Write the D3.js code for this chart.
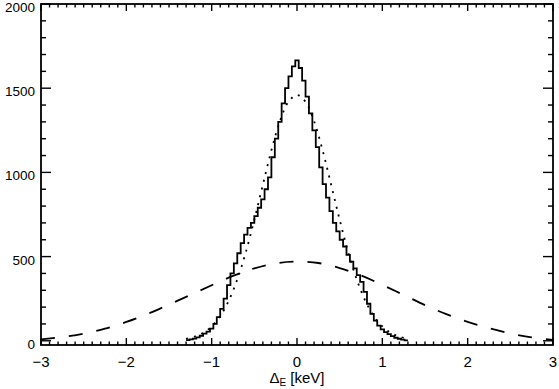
<!DOCTYPE html>
<html>
<head>
<meta charset="utf-8">
<script src="https://cdn.jsdelivr.net/npm/d3@7"></script>
<style>
  html, body { margin: 0; padding: 0; background: #fff; }
  svg { display: block; }
  text { font-family: "Liberation Sans", Arial, Helvetica, sans-serif; fill: #000; }
</style>
</head>
<body>
<div id="chart"></div>
<script>
// Energy-difference histogram with two model curves

// histogram: bin width 0.04 keV, first bin centred at -1.28 keV
const HIST_START = -1.28;
const HIST_BIN = 0.04;
const HIST_COUNTS = [
  4, 8, 13, 20, 30, 42, 55, 72, 100, 140, 190, 250, 330, 400, 460, 520,
  580, 630, 670, 700, 740, 790, 840, 900, 970, 1090, 1200, 1300, 1410, 1500, 1570, 1630,
  1665,
  1620, 1545, 1450, 1350, 1250, 1150, 1030, 930, 850, 770, 700, 650, 600, 560, 510, 470,
  430, 390, 350, 290, 220, 160, 120, 90, 68, 52, 40, 28, 18, 12, 7, 3
];

// dotted model curve
const DOT_X = [-1.3, -1.2, -1.1, -1.0, -0.9, -0.8, -0.7, -0.6, -0.5, -0.4, -0.3, -0.2, -0.1, 0,
               0.1, 0.2, 0.3, 0.4, 0.5, 0.6, 0.7, 0.8, 0.9, 1.0, 1.1, 1.2, 1.3];
const DOT_Y = [12, 25, 47, 86, 147, 238, 364, 526, 719, 927, 1131, 1304, 1419, 1460,
               1419, 1304, 1131, 927, 719, 526, 364, 238, 147, 86, 47, 25, 12];

// dashed model curve
const DASH_X = [-3.0, -2.75, -2.5, -2.25, -2.0, -1.75, -1.5, -1.25, -1.0, -0.75, -0.5, -0.25, 0,
                0.25, 0.5, 0.75, 1.0, 1.25, 1.5, 1.75, 2.0, 2.25, 2.5, 2.75, 3.0];
const DASH_Y = [8, 22, 42, 72, 112, 160, 215, 272, 330, 385, 430, 460, 470,
                462, 432, 388, 332, 272, 212, 158, 112, 75, 44, 20, 6];

const X_TICKS = [-3, -2, -1, 0, 1, 2, 3];
const X_LABELS = ['\u22123', '\u22122', '\u22121', '0', '1', '2', '3'];
const Y_TICKS = [0, 500, 1000, 1500, 2000];

const W = 559, H = 389;
const m = { left: 41, right: 6, top: 4, bottom: 44 };

const x = d3.scaleLinear().domain([-3, 3]).range([m.left, W - m.right]);
const y = d3.scaleLinear().domain([-25, 2000]).range([H - m.bottom, m.top]);

const svg = d3.select('#chart').append('svg')
  .attr('width', W).attr('height', H)
  .attr('viewBox', `0 0 ${W} ${H}`);

const x0 = m.left, x1 = W - m.right, y0 = H - m.bottom, y1 = m.top;
svg.append('clipPath').attr('id', 'plot')
  .append('rect').attr('x', x0).attr('y', y1).attr('width', x1 - x0).attr('height', y0 - y1);

const g = svg.append('g').attr('clip-path', 'url(#plot)');

// histogram as steps across bin edges
const steps = [];
HIST_COUNTS.forEach((c, i) => {
  const left = HIST_START + (i - 0.5) * HIST_BIN;
  steps.push([left, c]);
});
steps.push([HIST_START + (HIST_COUNTS.length - 0.5) * HIST_BIN, HIST_COUNTS[HIST_COUNTS.length - 1]]);

g.append('path')
  .attr('d', d3.line().x(d => x(d[0])).y(d => y(d[1])).curve(d3.curveStepAfter)(steps))
  .attr('fill', 'none').attr('stroke', '#000').attr('stroke-width', 1.8);

const smooth = d3.line().x(d => x(d[0])).y(d => y(d[1])).curve(d3.curveCatmullRom);

g.append('path')
  .attr('d', smooth(DOT_X.map((v, i) => [v, DOT_Y[i]])))
  .attr('fill', 'none').attr('stroke', '#000').attr('stroke-width', 1.8)
  .attr('stroke-dasharray', '2 6');

g.append('path')
  .attr('d', smooth(DASH_X.map((v, i) => [v, DASH_Y[i]])))
  .attr('fill', 'none').attr('stroke', '#000').attr('stroke-width', 1.8)
  .attr('stroke-dasharray', '14 14');

// frame and ticks (inward on all four sides)
const ax = svg.append('g').attr('stroke', '#000').attr('stroke-width', 1.4);
ax.append('rect').attr('x', x0).attr('y', y1).attr('width', x1 - x0).attr('height', y0 - y1)
  .attr('fill', 'none').attr('stroke-width', 1.8);

const xMinor = d3.range(-30, 31).map(v => v / 10);
xMinor.forEach(v => {
  const major = Math.abs(v - Math.round(v)) < 1e-9;
  const len = major ? 7 : 3.5;
  ax.append('line').attr('x1', x(v)).attr('x2', x(v)).attr('y1', y0).attr('y2', y0 - len);
  ax.append('line').attr('x1', x(v)).attr('x2', x(v)).attr('y1', y1).attr('y2', y1 + len);
});
const yMinor = d3.range(0, 21).map(v => v * 100);
yMinor.forEach(v => {
  const major = v % 500 === 0;
  const len = major ? 10 : 5;
  ax.append('line').attr('x1', x0).attr('x2', x0 + len).attr('y1', y(v)).attr('y2', y(v));
  ax.append('line').attr('x1', x1).attr('x2', x1 - len).attr('y1', y(v)).attr('y2', y(v));
});

// tick labels
svg.append('g').selectAll('text').data(Y_TICKS).join('text')
  .attr('x', x0 - 6).attr('y', d => y(d) + 8)
  .attr('text-anchor', 'end').attr('font-size', 13.5)
  .text(d => d);

svg.append('g').selectAll('text').data(X_TICKS).join('text')
  .attr('x', d => x(d))
  .attr('y', y0 + 22)
  .attr('text-anchor', 'middle').attr('font-size', 15)
  .text((d, i) => X_LABELS[i]);

// axis title
const t = svg.append('text').attr('x', x(0)).attr('y', H - 6)
  .attr('text-anchor', 'middle').attr('font-size', 15);
t.append('tspan').text('\u0394');
t.append('tspan').attr('font-size', 10).attr('dy', 3).text('E');
t.append('tspan').attr('dy', -3).text(' [keV]');
</script>
</body>
</html>
